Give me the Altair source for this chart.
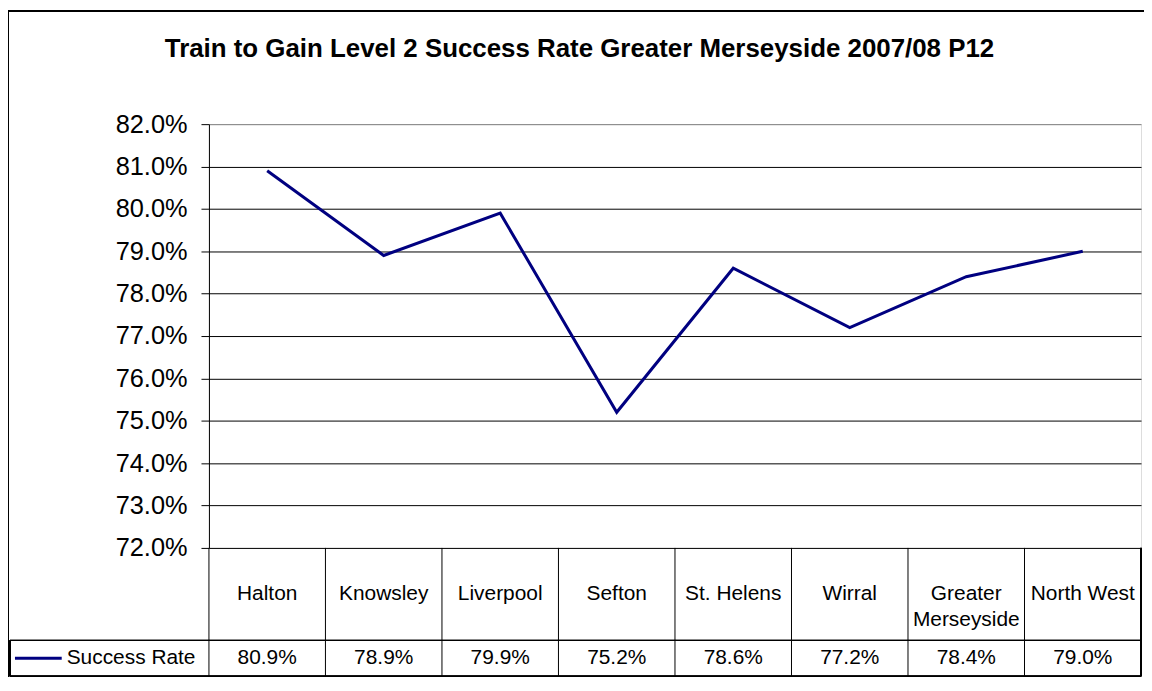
import altair as alt
import pandas as pd

# ---- data ----
categories = ["Halton", "Knowsley", "Liverpool", "Sefton", "St. Helens",
              "Wirral", "Greater Merseyside", "North West"]
table_labels = ["Halton", "Knowsley", "Liverpool", "Sefton", "St. Helens",
                "Wirral", "Greater\nMerseyside", "North West"]
success_rate = [0.809, 0.789, 0.799, 0.752, 0.786, 0.772, 0.784, 0.790]
y_ticks = [0.72, 0.73, 0.74, 0.75, 0.76, 0.77, 0.78, 0.79, 0.80, 0.81, 0.82]
series_name = "Success Rate"
chart_title = "Train to Gain Level 2 Success Rate Greater Merseyside 2007/08 P12"

df = pd.DataFrame({"cat": categories, "label": table_labels, "rate": success_rate})

# ---- layout ----
W, H = 937, 426
ROW1 = 93     # category row height
ROW2 = 36     # value row height
FONT = "Liberation Sans"
NAVY = "#000080"
TFS = 21      # table font size

xs = alt.Scale(type="band", domain=categories, paddingInner=0, paddingOuter=0)
ys = alt.Scale(domain=[0.72, 0.82], zero=False, nice=False)

base = alt.Chart(df)

line = base.mark_line(color=NAVY, strokeWidth=3).encode(
    x=alt.X("cat:N", scale=xs, axis=None, bandPosition=0.5),
    y=alt.Y("rate:Q", scale=ys, title=None,
            axis=alt.Axis(values=y_ticks, format=".1%", labelFontSize=25.5,
                          labelFont=FONT, labelColor="#000", labelPadding=14,
                          tickSize=8, tickColor="#000", domainColor="#000",
                          grid=True,
                          gridColor={"condition": {"test": "datum.value > 0.8195",
                                                   "value": "#808080"},
                                     "value": "#000000"},
                          gridOpacity=1)),
)

vlines = base.mark_rule(color="#000", strokeWidth=1).encode(
    x=alt.X("cat:N", scale=xs, axis=None, bandPosition=0),
    y=alt.value(H), y2=alt.value(H + ROW1 + ROW2),
)
right_edge = base.mark_rule(color="#000", strokeWidth=1).encode(
    x=alt.value(W), y=alt.value(H), y2=alt.value(H + ROW1 + ROW2),
)
hline1 = base.mark_rule(color="#000", strokeWidth=1).encode(
    x=alt.value(-200), x2=alt.value(W), y=alt.value(H + ROW1),
)
hline2 = base.mark_rule(color="#000", strokeWidth=1).encode(
    x=alt.value(-200), x2=alt.value(W), y=alt.value(H + ROW1 + ROW2),
)
legend_left = base.mark_rule(color="#000", strokeWidth=1).encode(
    x=alt.value(-200), y=alt.value(H + ROW1), y2=alt.value(H + ROW1 + ROW2),
)

cat_text = base.mark_text(font=FONT, fontSize=TFS, color="#000", lineBreak="\n",
                          lineHeight=26, baseline="middle", align="center").encode(
    x=alt.X("cat:N", scale=xs, axis=None, bandPosition=0.5),
    y=alt.value(H + ROW1 / 2),
    text="label:N",
)
val_text = base.mark_text(font=FONT, fontSize=TFS, color="#000",
                          baseline="middle", align="center").encode(
    x=alt.X("cat:N", scale=xs, axis=None, bandPosition=0.5),
    y=alt.value(H + ROW1 + ROW2 / 2),
    text=alt.Text("rate:Q", format=".1%"),
)

legend_df = pd.DataFrame({"series": [series_name]})
legend_swatch = alt.Chart(legend_df).mark_rule(color=NAVY, strokeWidth=3).encode(
    x=alt.value(-195), x2=alt.value(-148), y=alt.value(H + ROW1 + ROW2 / 2),
)
legend_text = alt.Chart(legend_df).mark_text(font=FONT, fontSize=TFS, color="#000",
                                             baseline="middle", align="left").encode(
    x=alt.value(-143), y=alt.value(H + ROW1 + ROW2 / 2), text="series:N",
)

title_df = pd.DataFrame({"title": [chart_title]})
title_text = alt.Chart(title_df).mark_text(font=FONT, fontSize=26, fontWeight="bold",
                                           color="#000", baseline="alphabetic",
                                           align="center").encode(
    x=alt.value(W / 2 - 96), y=alt.value(-68), text="title:N",
)

border_top = base.mark_rule(color="#000", strokeWidth=1.5).encode(
    x=alt.value(-202), x2=alt.value(1000), y=alt.value(-114),
)
border_left = base.mark_rule(color="#000", strokeWidth=1.5).encode(
    x=alt.value(-202), y=alt.value(-114), y2=alt.value(700),
)

chart = alt.layer(
    line, vlines, right_edge, hline1, hline2, legend_left,
    cat_text, val_text, legend_swatch, legend_text, title_text,
    border_top, border_left,
).properties(
    width=W, height=H,
    autosize=alt.AutoSizeParams(type="none"),
    padding={"left": 202, "top": 115, "right": 3, "bottom": 128},
).configure_view(
    stroke="#808080", strokeWidth=1, fill="white"
).configure(background="white")

chart.save("out.html", embed_options={"renderer": "svg", "actions": False})
